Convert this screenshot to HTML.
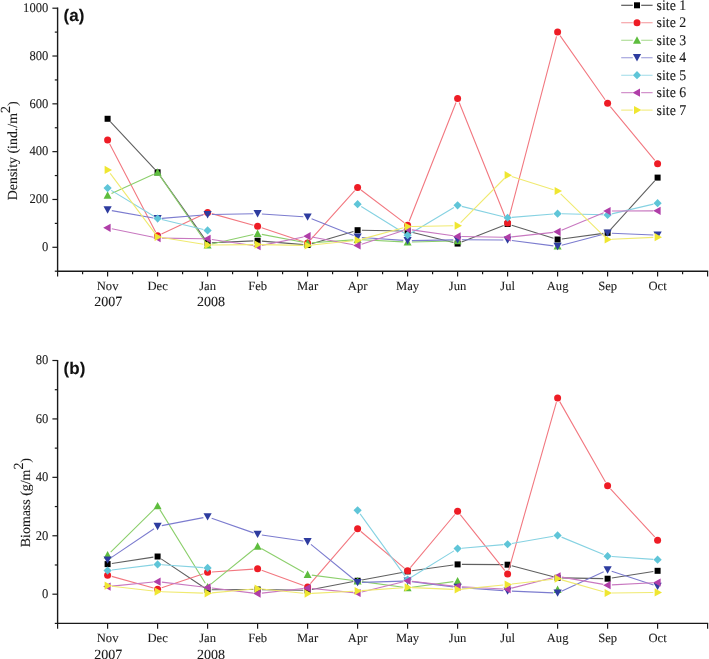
<!DOCTYPE html>
<html><head><meta charset="utf-8"><style>
html,body{margin:0;padding:0;background:#fff;}
body{width:709px;height:659px;overflow:hidden;}
svg{display:block;filter:blur(0.45px);}
.ax{stroke:#1a1a1a;stroke-width:1.4;}
.tk{stroke:#1a1a1a;stroke-width:1.2;}
.ln{stroke-width:1.1;}
.lln{stroke-width:1.1;opacity:0.8;}
text{font-family:"Liberation Serif",serif;fill:#1a1a1a;stroke:#1a1a1a;stroke-width:0.1px;text-rendering:geometricPrecision;}
.tl{font-size:12.6px;}
.lg{font-size:13.9px;}
.yr{font-size:14px;}
.yl{font-size:13.9px;}
.sup{font-size:9.5px;}
.tag{font-family:"Liberation Sans",sans-serif;font-weight:bold;font-size:17px;fill:#111;}
</style></head><body>
<svg width="709" height="659" viewBox="0 0 709 659">
<line x1="57.6" y1="7.6" x2="57.6" y2="271.8" class="ax"/>
<line x1="57" y1="271.2" x2="708.2" y2="271.2" class="ax"/>
<line x1="54.8" y1="271.2" x2="57.6" y2="271.2" class="tk"/>
<line x1="52.4" y1="247.29" x2="57.6" y2="247.29" class="tk"/>
<text transform="translate(48.3,250.99) scale(1,1.06)" class="tl" text-anchor="end">0</text>
<line x1="54.8" y1="223.38" x2="57.6" y2="223.38" class="tk"/>
<line x1="52.4" y1="199.47" x2="57.6" y2="199.47" class="tk"/>
<text transform="translate(48.3,203.17) scale(1,1.06)" class="tl" text-anchor="end">200</text>
<line x1="54.8" y1="175.56" x2="57.6" y2="175.56" class="tk"/>
<line x1="52.4" y1="151.65" x2="57.6" y2="151.65" class="tk"/>
<text transform="translate(48.3,155.35) scale(1,1.06)" class="tl" text-anchor="end">400</text>
<line x1="54.8" y1="127.75" x2="57.6" y2="127.75" class="tk"/>
<line x1="52.4" y1="103.84" x2="57.6" y2="103.84" class="tk"/>
<text transform="translate(48.3,107.54) scale(1,1.06)" class="tl" text-anchor="end">600</text>
<line x1="54.8" y1="79.93" x2="57.6" y2="79.93" class="tk"/>
<line x1="52.4" y1="56.02" x2="57.6" y2="56.02" class="tk"/>
<text transform="translate(48.3,59.72) scale(1,1.06)" class="tl" text-anchor="end">800</text>
<line x1="54.8" y1="32.11" x2="57.6" y2="32.11" class="tk"/>
<line x1="52.4" y1="8.2" x2="57.6" y2="8.2" class="tk"/>
<text transform="translate(48.3,11.9) scale(1,1.06)" class="tl" text-anchor="end">1000</text>
<line x1="57.6" y1="271.2" x2="57.6" y2="276.6" class="tk"/>
<line x1="82.6" y1="271.2" x2="82.6" y2="274.2" class="tk"/>
<line x1="107.6" y1="271.2" x2="107.6" y2="276.6" class="tk"/>
<line x1="132.6" y1="271.2" x2="132.6" y2="274.2" class="tk"/>
<line x1="157.6" y1="271.2" x2="157.6" y2="276.6" class="tk"/>
<line x1="182.6" y1="271.2" x2="182.6" y2="274.2" class="tk"/>
<line x1="207.6" y1="271.2" x2="207.6" y2="276.6" class="tk"/>
<line x1="232.6" y1="271.2" x2="232.6" y2="274.2" class="tk"/>
<line x1="257.6" y1="271.2" x2="257.6" y2="276.6" class="tk"/>
<line x1="282.6" y1="271.2" x2="282.6" y2="274.2" class="tk"/>
<line x1="307.6" y1="271.2" x2="307.6" y2="276.6" class="tk"/>
<line x1="332.6" y1="271.2" x2="332.6" y2="274.2" class="tk"/>
<line x1="357.6" y1="271.2" x2="357.6" y2="276.6" class="tk"/>
<line x1="382.6" y1="271.2" x2="382.6" y2="274.2" class="tk"/>
<line x1="407.6" y1="271.2" x2="407.6" y2="276.6" class="tk"/>
<line x1="432.6" y1="271.2" x2="432.6" y2="274.2" class="tk"/>
<line x1="457.6" y1="271.2" x2="457.6" y2="276.6" class="tk"/>
<line x1="482.6" y1="271.2" x2="482.6" y2="274.2" class="tk"/>
<line x1="507.6" y1="271.2" x2="507.6" y2="276.6" class="tk"/>
<line x1="532.6" y1="271.2" x2="532.6" y2="274.2" class="tk"/>
<line x1="557.6" y1="271.2" x2="557.6" y2="276.6" class="tk"/>
<line x1="582.6" y1="271.2" x2="582.6" y2="274.2" class="tk"/>
<line x1="607.6" y1="271.2" x2="607.6" y2="276.6" class="tk"/>
<line x1="632.6" y1="271.2" x2="632.6" y2="274.2" class="tk"/>
<line x1="657.6" y1="271.2" x2="657.6" y2="276.6" class="tk"/>
<line x1="682.6" y1="271.2" x2="682.6" y2="274.2" class="tk"/>
<line x1="707.6" y1="271.2" x2="707.6" y2="276.6" class="tk"/>
<text transform="translate(107.6,290.2)" class="tl" text-anchor="middle">Nov</text>
<text transform="translate(157.6,290.2)" class="tl" text-anchor="middle">Dec</text>
<text transform="translate(207.6,290.2)" class="tl" text-anchor="middle">Jan</text>
<text transform="translate(257.6,290.2)" class="tl" text-anchor="middle">Feb</text>
<text transform="translate(307.6,290.2)" class="tl" text-anchor="middle">Mar</text>
<text transform="translate(357.6,290.2)" class="tl" text-anchor="middle">Apr</text>
<text transform="translate(407.6,290.2)" class="tl" text-anchor="middle">May</text>
<text transform="translate(457.6,290.2)" class="tl" text-anchor="middle">Jun</text>
<text transform="translate(507.6,290.2)" class="tl" text-anchor="middle">Jul</text>
<text transform="translate(557.6,290.2)" class="tl" text-anchor="middle">Aug</text>
<text transform="translate(607.6,290.2)" class="tl" text-anchor="middle">Sep</text>
<text transform="translate(657.6,290.2)" class="tl" text-anchor="middle">Oct</text>
<text transform="translate(108.3,306.4)" class="yr" text-anchor="middle">2007</text>
<text transform="translate(211,306.4)" class="yr" text-anchor="middle">2008</text>
<path d="M110.53 121.92L154.67 169.19M160.09 175.84L205.11 239.36M211.9 242.68L253.3 240.9M261.88 241.08L303.32 244.65M311.72 243.8L353.48 231.42M361.9 230.28L403.3 231.07M411.77 232.19L453.43 242.55M461.6 242.02L503.6 225.55M511.71 225.26L553.49 238.24M561.86 238.95L603.34 233.4M610.49 229.64L654.71 180.78" fill="none" stroke="#606060" class="ln"/>
<rect x="104.6" y="115.78" width="6" height="6" fill="#000000"/>
<rect x="154.6" y="169.34" width="6" height="6" fill="#000000"/>
<rect x="204.6" y="239.87" width="6" height="6" fill="#000000"/>
<rect x="254.6" y="237.72" width="6" height="6" fill="#000000"/>
<rect x="304.6" y="242.02" width="6" height="6" fill="#000000"/>
<rect x="354.6" y="227.2" width="6" height="6" fill="#000000"/>
<rect x="404.6" y="228.15" width="6" height="6" fill="#000000"/>
<rect x="454.6" y="240.58" width="6" height="6" fill="#000000"/>
<rect x="504.6" y="220.98" width="6" height="6" fill="#000000"/>
<rect x="554.6" y="236.52" width="6" height="6" fill="#000000"/>
<rect x="604.6" y="229.83" width="6" height="6" fill="#000000"/>
<rect x="654.6" y="174.6" width="6" height="6" fill="#000000"/>
<path d="M109.59 143.87L155.61 231.88M161.5 233.89L203.7 214.31M211.74 213.65L253.46 225.22M261.68 227.74L303.52 241.74M310.47 239.91L354.73 190.6M361.03 189.99L404.17 222.58M409.18 221.18L456.02 102.46M459.2 102.45L506 219.03M508.69 218.86L556.51 36.27M560.07 35.63L605.13 99.72M610.34 106.55L654.86 160.41" fill="none" stroke="#f27880" class="ln"/>
<circle cx="107.6" cy="140.06" r="3.5" fill="#ee1c25"/>
<circle cx="157.6" cy="235.69" r="3.5" fill="#ee1c25"/>
<circle cx="207.6" cy="212.5" r="3.5" fill="#ee1c25"/>
<circle cx="257.6" cy="226.37" r="3.5" fill="#ee1c25"/>
<circle cx="307.6" cy="243.11" r="3.5" fill="#ee1c25"/>
<circle cx="357.6" cy="187.4" r="3.5" fill="#ee1c25"/>
<circle cx="407.6" cy="225.17" r="3.5" fill="#ee1c25"/>
<circle cx="457.6" cy="98.46" r="3.5" fill="#ee1c25"/>
<circle cx="507.6" cy="223.02" r="3.5" fill="#ee1c25"/>
<circle cx="557.6" cy="32.11" r="3.5" fill="#ee1c25"/>
<circle cx="607.6" cy="103.24" r="3.5" fill="#ee1c25"/>
<circle cx="657.6" cy="163.73" r="3.5" fill="#ee1c25"/>
<path d="M111.51 193.49L153.69 174.13M160.04 175.88L205.16 241.48M211.79 244.06L253.41 234.51M261.82 234.35L303.38 242.3M311.89 242.8L353.31 239.83M361.89 239.75L403.31 241.92M411.9 242.05L453.3 241.06" fill="none" stroke="#8ccf6c" class="ln"/>
<polygon points="107.6,191.29 111.6,198.69 103.6,198.69" fill="#5ebd3e"/>
<polygon points="157.6,168.34 161.6,175.74 153.6,175.74" fill="#5ebd3e"/>
<polygon points="207.6,241.02 211.6,248.42 203.6,248.42" fill="#5ebd3e"/>
<polygon points="257.6,229.54 261.6,236.94 253.6,236.94" fill="#5ebd3e"/>
<polygon points="307.6,239.11 311.6,246.51 303.6,246.51" fill="#5ebd3e"/>
<polygon points="357.6,235.52 361.6,242.92 353.6,242.92" fill="#5ebd3e"/>
<polygon points="407.6,238.15 411.6,245.55 403.6,245.55" fill="#5ebd3e"/>
<polygon points="457.6,236.95 461.6,244.35 453.6,244.35" fill="#5ebd3e"/>
<polygon points="557.6,241.98 561.6,249.38 553.6,249.38" fill="#5ebd3e"/>
<path d="M111.83 210.62L153.37 217.97M161.89 218.37L203.31 215M211.9 214.57L253.3 213.78M261.89 213.99L303.31 216.76M311.59 218.65L353.61 235.53M361.89 237.44L403.31 240.41M411.9 240.63L453.3 239.84M461.9 239.78L503.3 239.98M511.86 240.55L553.34 245.9M561.75 245.34L603.45 234.18M611.9 233.25L653.3 235.03" fill="none" stroke="#7c7ccf" class="ln"/>
<polygon points="103.5,206.27 111.7,206.27 107.6,213.67" fill="#2e3c9f"/>
<polygon points="153.5,215.12 161.7,215.12 157.6,222.52" fill="#2e3c9f"/>
<polygon points="203.5,211.05 211.7,211.05 207.6,218.45" fill="#2e3c9f"/>
<polygon points="253.5,210.1 261.7,210.1 257.6,217.5" fill="#2e3c9f"/>
<polygon points="303.5,213.45 311.7,213.45 307.6,220.85" fill="#2e3c9f"/>
<polygon points="353.5,233.53 361.7,233.53 357.6,240.93" fill="#2e3c9f"/>
<polygon points="403.5,237.12 411.7,237.12 407.6,244.52" fill="#2e3c9f"/>
<polygon points="453.5,236.16 461.7,236.16 457.6,243.56" fill="#2e3c9f"/>
<polygon points="503.5,236.4 511.7,236.4 507.6,243.8" fill="#2e3c9f"/>
<polygon points="553.5,242.85 561.7,242.85 557.6,250.25" fill="#2e3c9f"/>
<polygon points="603.5,229.47 611.7,229.47 607.6,236.86" fill="#2e3c9f"/>
<polygon points="653.5,231.62 661.7,231.62 657.6,239.02" fill="#2e3c9f"/>
<path d="M111.28 190.35L153.92 216.25M161.78 219.48L203.42 229.44M361.25 206.41L403.95 232.95M411.29 233.01L453.91 207.54M461.77 206.37L503.43 216.73M511.89 217.41L553.31 214.05M561.9 213.8L603.3 214.79M611.79 213.91L653.41 204.16" fill="none" stroke="#86d2e2" class="ln"/>
<polygon points="107.6,184.02 111.7,188.12 107.6,192.22 103.5,188.12" fill="#5fc5d8"/>
<polygon points="157.6,214.38 161.7,218.48 157.6,222.58 153.5,218.48" fill="#5fc5d8"/>
<polygon points="207.6,226.34 211.7,230.44 207.6,234.53 203.5,230.44" fill="#5fc5d8"/>
<polygon points="357.6,200.03 361.7,204.13 357.6,208.23 353.5,204.13" fill="#5fc5d8"/>
<polygon points="407.6,231.12 411.7,235.22 407.6,239.32 403.5,235.22" fill="#5fc5d8"/>
<polygon points="457.6,201.23 461.7,205.33 457.6,209.43 453.5,205.33" fill="#5fc5d8"/>
<polygon points="507.6,213.66 511.7,217.76 507.6,221.86 503.5,217.76" fill="#5fc5d8"/>
<polygon points="557.6,209.6 561.7,213.7 557.6,217.8 553.5,213.7" fill="#5fc5d8"/>
<polygon points="607.6,210.79 611.7,214.89 607.6,218.99 603.5,214.89" fill="#5fc5d8"/>
<polygon points="657.6,199.08 661.7,203.18 657.6,207.28 653.5,203.18" fill="#5fc5d8"/>
<path d="M111.81 228.67L153.39 237.22M161.9 238.15L203.3 238.74M211.85 239.43L253.35 245.58M261.82 245.37L303.38 237.02M311.83 236.96L353.37 244.71M361.69 244.17L403.51 230.57M411.86 229.85L453.34 235.8M461.9 236.49L503.3 237.29M511.87 236.9L553.33 232.34M561.57 230.22L603.63 212.72M611.9 211.05L653.3 210.85" fill="none" stroke="#c878c0" class="ln"/>
<polygon points="103.2,227.8 110.6,223.7 110.6,231.9" fill="#b03ea8"/>
<polygon points="153.2,238.09 160.6,233.99 160.6,242.19" fill="#b03ea8"/>
<polygon points="203.2,238.8 210.6,234.7 210.6,242.9" fill="#b03ea8"/>
<polygon points="253.2,246.21 260.6,242.11 260.6,250.31" fill="#b03ea8"/>
<polygon points="303.2,236.17 310.6,232.07 310.6,240.27" fill="#b03ea8"/>
<polygon points="353.2,245.5 360.6,241.4 360.6,249.6" fill="#b03ea8"/>
<polygon points="403.2,229.24 410.6,225.14 410.6,233.34" fill="#b03ea8"/>
<polygon points="453.2,236.41 460.6,232.31 460.6,240.51" fill="#b03ea8"/>
<polygon points="503.2,237.37 510.6,233.27 510.6,241.47" fill="#b03ea8"/>
<polygon points="553.2,231.87 560.6,227.77 560.6,235.97" fill="#b03ea8"/>
<polygon points="603.2,211.07 610.6,206.97 610.6,215.17" fill="#b03ea8"/>
<polygon points="653.2,210.83 660.6,206.73 660.6,214.93" fill="#b03ea8"/>
<path d="M110.17 173.39L155.03 233.45M161.84 237.58L203.36 244.33M211.9 244.98L253.3 244.58M261.9 244.62L303.3 245.42M311.88 245.05L353.32 240.69M361.75 239.11L403.45 227.74M411.9 226.53L453.3 225.74M460.63 222.6L504.57 178.26M511.7 176.5L553.5 189.69M560.69 193.98L604.51 236.53M611.9 239.32L653.3 237.33" fill="none" stroke="#f0ea70" class="ln"/>
<polygon points="104.6,165.84 112,169.94 104.6,174.04" fill="#efe631"/>
<polygon points="154.6,232.79 162,236.89 154.6,240.99" fill="#efe631"/>
<polygon points="204.6,240.92 212,245.02 204.6,249.12" fill="#efe631"/>
<polygon points="254.6,240.44 262,244.54 254.6,248.64" fill="#efe631"/>
<polygon points="304.6,241.4 312,245.5 304.6,249.6" fill="#efe631"/>
<polygon points="354.6,236.14 362,240.24 354.6,244.34" fill="#efe631"/>
<polygon points="404.6,222.51 412,226.61 404.6,230.71" fill="#efe631"/>
<polygon points="454.6,221.55 462,225.65 454.6,229.75" fill="#efe631"/>
<polygon points="504.6,171.1 512,175.2 504.6,179.3" fill="#efe631"/>
<polygon points="554.6,186.88 562,190.98 554.6,195.08" fill="#efe631"/>
<polygon points="604.6,235.42 612,239.52 604.6,243.62" fill="#efe631"/>
<polygon points="654.6,233.03 662,237.13 654.6,241.23" fill="#efe631"/>
<text transform="translate(63.6,21.2)" class="tag">(a)</text>
<text transform="translate(17.1,150.8) rotate(-90)" class="yl" text-anchor="middle">Density (ind./m<tspan dy="-6.8">2</tspan><tspan dy="6.8">)</tspan></text>
<line x1="57.6" y1="359.9" x2="57.6" y2="624" class="ax"/>
<line x1="57" y1="623.4" x2="708.2" y2="623.4" class="ax"/>
<line x1="54.8" y1="623.4" x2="57.6" y2="623.4" class="tk"/>
<line x1="52.4" y1="594.19" x2="57.6" y2="594.19" class="tk"/>
<text transform="translate(48.3,597.99) scale(1,1.06)" class="tl" text-anchor="end">0</text>
<line x1="54.8" y1="564.98" x2="57.6" y2="564.98" class="tk"/>
<line x1="52.4" y1="535.77" x2="57.6" y2="535.77" class="tk"/>
<text transform="translate(48.3,539.57) scale(1,1.06)" class="tl" text-anchor="end">20</text>
<line x1="54.8" y1="506.56" x2="57.6" y2="506.56" class="tk"/>
<line x1="52.4" y1="477.34" x2="57.6" y2="477.34" class="tk"/>
<text transform="translate(48.3,481.14) scale(1,1.06)" class="tl" text-anchor="end">40</text>
<line x1="54.8" y1="448.13" x2="57.6" y2="448.13" class="tk"/>
<line x1="52.4" y1="418.92" x2="57.6" y2="418.92" class="tk"/>
<text transform="translate(48.3,422.72) scale(1,1.06)" class="tl" text-anchor="end">60</text>
<line x1="54.8" y1="389.71" x2="57.6" y2="389.71" class="tk"/>
<line x1="52.4" y1="360.5" x2="57.6" y2="360.5" class="tk"/>
<text transform="translate(48.3,364.3) scale(1,1.06)" class="tl" text-anchor="end">80</text>
<line x1="57.6" y1="623.4" x2="57.6" y2="628.8" class="tk"/>
<line x1="107.6" y1="623.4" x2="107.6" y2="628.8" class="tk"/>
<line x1="157.6" y1="623.4" x2="157.6" y2="628.8" class="tk"/>
<line x1="207.6" y1="623.4" x2="207.6" y2="628.8" class="tk"/>
<line x1="257.6" y1="623.4" x2="257.6" y2="628.8" class="tk"/>
<line x1="307.6" y1="623.4" x2="307.6" y2="628.8" class="tk"/>
<line x1="357.6" y1="623.4" x2="357.6" y2="628.8" class="tk"/>
<line x1="407.6" y1="623.4" x2="407.6" y2="628.8" class="tk"/>
<line x1="457.6" y1="623.4" x2="457.6" y2="628.8" class="tk"/>
<line x1="507.6" y1="623.4" x2="507.6" y2="628.8" class="tk"/>
<line x1="557.6" y1="623.4" x2="557.6" y2="628.8" class="tk"/>
<line x1="607.6" y1="623.4" x2="607.6" y2="628.8" class="tk"/>
<line x1="657.6" y1="623.4" x2="657.6" y2="628.8" class="tk"/>
<line x1="707.6" y1="623.4" x2="707.6" y2="628.8" class="tk"/>
<text transform="translate(107.6,642.4)" class="tl" text-anchor="middle">Nov</text>
<text transform="translate(157.6,642.4)" class="tl" text-anchor="middle">Dec</text>
<text transform="translate(207.6,642.4)" class="tl" text-anchor="middle">Jan</text>
<text transform="translate(257.6,642.4)" class="tl" text-anchor="middle">Feb</text>
<text transform="translate(307.6,642.4)" class="tl" text-anchor="middle">Mar</text>
<text transform="translate(357.6,642.4)" class="tl" text-anchor="middle">Apr</text>
<text transform="translate(407.6,642.4)" class="tl" text-anchor="middle">May</text>
<text transform="translate(457.6,642.4)" class="tl" text-anchor="middle">Jun</text>
<text transform="translate(507.6,642.4)" class="tl" text-anchor="middle">Jul</text>
<text transform="translate(557.6,642.4)" class="tl" text-anchor="middle">Aug</text>
<text transform="translate(607.6,642.4)" class="tl" text-anchor="middle">Sep</text>
<text transform="translate(657.6,642.4)" class="tl" text-anchor="middle">Oct</text>
<text transform="translate(108.3,658.6)" class="yr" text-anchor="middle">2007</text>
<text transform="translate(211,658.6)" class="yr" text-anchor="middle">2008</text>
<path d="M111.85 563.46L153.35 557.15M161.18 558.89L204.02 587.42M211.9 589.78L253.3 589.54M261.9 589.59L303.3 590.32M311.82 589.58L353.38 581.57M361.83 579.96L403.37 572.19M411.86 570.81L453.34 564.99M461.9 564.42L503.3 564.66M511.76 565.78L553.44 576.74M561.9 577.91L603.3 578.63M611.85 578.04L653.35 571.49" fill="none" stroke="#606060" class="ln"/>
<rect x="104.6" y="561.1" width="6" height="6" fill="#000000"/>
<rect x="154.6" y="553.51" width="6" height="6" fill="#000000"/>
<rect x="204.6" y="586.81" width="6" height="6" fill="#000000"/>
<rect x="254.6" y="586.52" width="6" height="6" fill="#000000"/>
<rect x="304.6" y="587.39" width="6" height="6" fill="#000000"/>
<rect x="354.6" y="577.75" width="6" height="6" fill="#000000"/>
<rect x="404.6" y="568.4" width="6" height="6" fill="#000000"/>
<rect x="454.6" y="561.39" width="6" height="6" fill="#000000"/>
<rect x="504.6" y="561.69" width="6" height="6" fill="#000000"/>
<rect x="554.6" y="574.83" width="6" height="6" fill="#000000"/>
<rect x="604.6" y="575.71" width="6" height="6" fill="#000000"/>
<rect x="654.6" y="567.82" width="6" height="6" fill="#000000"/>
<path d="M111.74 576.36L153.46 588.06M161.67 587.84L203.53 573.66M211.89 571.98L253.31 569.08M261.64 570.24L303.56 585.42M310.4 583.63L354.8 532.02M360.89 531.52L404.31 568.05M410.36 567.53L454.84 514.52M460.28 514.59L504.92 570.67M508.77 569.9L556.43 402.03M559.73 401.63L605.47 482.08M610.51 488.98L654.69 536.98" fill="none" stroke="#f27880" class="ln"/>
<circle cx="107.6" cy="575.2" r="3.5" fill="#ee1c25"/>
<circle cx="157.6" cy="589.22" r="3.5" fill="#ee1c25"/>
<circle cx="207.6" cy="572.28" r="3.5" fill="#ee1c25"/>
<circle cx="257.6" cy="568.78" r="3.5" fill="#ee1c25"/>
<circle cx="307.6" cy="586.89" r="3.5" fill="#ee1c25"/>
<circle cx="357.6" cy="528.76" r="3.5" fill="#ee1c25"/>
<circle cx="407.6" cy="570.82" r="3.5" fill="#ee1c25"/>
<circle cx="457.6" cy="511.23" r="3.5" fill="#ee1c25"/>
<circle cx="507.6" cy="574.03" r="3.5" fill="#ee1c25"/>
<circle cx="557.6" cy="397.89" r="3.5" fill="#ee1c25"/>
<circle cx="607.6" cy="485.82" r="3.5" fill="#ee1c25"/>
<circle cx="657.6" cy="540.15" r="3.5" fill="#ee1c25"/>
<path d="M110.67 552.03L154.53 508.98M159.86 509.63L205.34 583.23M210.94 584.18L254.26 548.99M261.34 548.4L303.86 572.5M311.86 575.17L353.34 580.5M361.86 581.62L403.34 587.19M411.86 587.19L453.34 581.62" fill="none" stroke="#8ccf6c" class="ln"/>
<polygon points="107.6,551.05 111.6,558.45 103.6,558.45" fill="#5ebd3e"/>
<polygon points="157.6,501.97 161.6,509.37 153.6,509.37" fill="#5ebd3e"/>
<polygon points="207.6,582.89 211.6,590.29 203.6,590.29" fill="#5ebd3e"/>
<polygon points="257.6,542.28 261.6,549.68 253.6,549.68" fill="#5ebd3e"/>
<polygon points="307.6,570.62 311.6,578.02 303.6,578.02" fill="#5ebd3e"/>
<polygon points="357.6,577.04 361.6,584.44 353.6,584.44" fill="#5ebd3e"/>
<polygon points="407.6,583.76 411.6,591.16 403.6,591.16" fill="#5ebd3e"/>
<polygon points="457.6,577.04 461.6,584.44 453.6,584.44" fill="#5ebd3e"/>
<polygon points="557.6,585.52 561.6,592.92 553.6,592.92" fill="#5ebd3e"/>
<path d="M111.17 557.61L154.03 528.82M161.82 525.61L203.38 517.59M211.66 518.2L253.54 532.88M261.85 534.93L303.35 540.99M310.93 544.33L354.27 579.78M361.9 582.38L403.3 581.17M411.86 581.59L453.34 586.92M461.89 587.77L503.31 590.67M511.9 591.15L553.3 592.84M561.5 591.22L603.7 571.75M611.69 571.28L653.51 584.96" fill="none" stroke="#7c7ccf" class="ln"/>
<polygon points="103.5,556.41 111.7,556.41 107.6,563.81" fill="#2e3c9f"/>
<polygon points="153.5,522.82 161.7,522.82 157.6,530.22" fill="#2e3c9f"/>
<polygon points="203.5,513.18 211.7,513.18 207.6,520.58" fill="#2e3c9f"/>
<polygon points="253.5,530.71 261.7,530.71 257.6,538.11" fill="#2e3c9f"/>
<polygon points="303.5,538.01 311.7,538.01 307.6,545.41" fill="#2e3c9f"/>
<polygon points="353.5,578.9 361.7,578.9 357.6,586.3" fill="#2e3c9f"/>
<polygon points="403.5,577.44 411.7,577.44 407.6,584.84" fill="#2e3c9f"/>
<polygon points="453.5,583.87 461.7,583.87 457.6,591.27" fill="#2e3c9f"/>
<polygon points="503.5,587.38 511.7,587.38 507.6,594.78" fill="#2e3c9f"/>
<polygon points="553.5,589.42 561.7,589.42 557.6,596.82" fill="#2e3c9f"/>
<polygon points="603.5,566.34 611.7,566.34 607.6,573.74" fill="#2e3c9f"/>
<polygon points="653.5,582.7 661.7,582.7 657.6,590.1" fill="#2e3c9f"/>
<path d="M111.87 570L153.33 564.92M161.89 564.69L203.31 567.6M360.12 513.84L405.08 576.1M411.26 577.32L453.94 550.88M461.88 548.24L503.32 544.61M511.84 543.5L553.36 536.22M561.57 537.12L603.63 554.57M611.89 556.52L653.31 559.42" fill="none" stroke="#86d2e2" class="ln"/>
<polygon points="107.6,566.43 111.7,570.53 107.6,574.63 103.5,570.53" fill="#5fc5d8"/>
<polygon points="157.6,560.29 161.7,564.39 157.6,568.49 153.5,564.39" fill="#5fc5d8"/>
<polygon points="207.6,563.8 211.7,567.9 207.6,572 203.5,567.9" fill="#5fc5d8"/>
<polygon points="357.6,506.25 361.7,510.35 357.6,514.45 353.5,510.35" fill="#5fc5d8"/>
<polygon points="407.6,575.48 411.7,579.58 407.6,583.68 403.5,579.58" fill="#5fc5d8"/>
<polygon points="457.6,544.52 461.7,548.62 457.6,552.72 453.5,548.62" fill="#5fc5d8"/>
<polygon points="507.6,540.14 511.7,544.24 507.6,548.34 503.5,544.24" fill="#5fc5d8"/>
<polygon points="557.6,531.37 561.7,535.47 557.6,539.57 553.5,535.47" fill="#5fc5d8"/>
<polygon points="607.6,552.11 611.7,556.21 607.6,560.31 603.5,556.21" fill="#5fc5d8"/>
<polygon points="657.6,555.62 661.7,559.72 657.6,563.82 653.5,559.72" fill="#5fc5d8"/>
<path d="M111.88 586.17L153.32 582.05M161.87 582.13L203.33 586.97M211.87 587.99L253.33 593.08M261.87 593.13L303.33 588.53M311.88 588.48L353.32 592.6M361.78 592L403.42 581.78M411.87 581.25L453.33 586.09M461.89 586.82L503.31 589M511.76 588.15L553.44 577.44M561.84 577.11L603.36 584.39M611.89 584.91L653.31 582.73" fill="none" stroke="#c878c0" class="ln"/>
<polygon points="103.2,586.59 110.6,582.49 110.6,590.69" fill="#b03ea8"/>
<polygon points="153.2,581.63 160.6,577.53 160.6,585.73" fill="#b03ea8"/>
<polygon points="203.2,587.47 210.6,583.37 210.6,591.57" fill="#b03ea8"/>
<polygon points="253.2,593.6 260.6,589.5 260.6,597.7" fill="#b03ea8"/>
<polygon points="303.2,588.05 310.6,583.95 310.6,592.15" fill="#b03ea8"/>
<polygon points="353.2,593.02 360.6,588.92 360.6,597.12" fill="#b03ea8"/>
<polygon points="403.2,580.75 410.6,576.65 410.6,584.85" fill="#b03ea8"/>
<polygon points="453.2,586.59 460.6,582.49 460.6,590.69" fill="#b03ea8"/>
<polygon points="503.2,589.22 510.6,585.12 510.6,593.32" fill="#b03ea8"/>
<polygon points="553.2,576.37 560.6,572.27 560.6,580.47" fill="#b03ea8"/>
<polygon points="603.2,585.13 610.6,581.03 610.6,589.23" fill="#b03ea8"/>
<polygon points="653.2,582.5 660.6,578.4 660.6,586.6" fill="#b03ea8"/>
<path d="M111.87 586.22L153.33 591.06M161.9 591.71L203.3 593.16M211.88 592.91L253.32 589.04M261.88 589.06L303.32 593.18M311.89 593.38L353.31 591.2M361.89 590.67L403.31 587.77M411.9 587.65L453.3 589.34M461.88 589.09L503.32 584.97M511.87 584.05L553.33 579.21M561.73 579.89L603.47 591.84M611.9 592.97L653.3 592.49" fill="none" stroke="#f0ea70" class="ln"/>
<polygon points="104.6,581.62 112,585.72 104.6,589.82" fill="#efe631"/>
<polygon points="154.6,587.46 162,591.56 154.6,595.66" fill="#efe631"/>
<polygon points="204.6,589.21 212,593.31 204.6,597.41" fill="#efe631"/>
<polygon points="254.6,584.54 262,588.64 254.6,592.74" fill="#efe631"/>
<polygon points="304.6,589.5 312,593.6 304.6,597.7" fill="#efe631"/>
<polygon points="354.6,586.88 362,590.98 354.6,595.08" fill="#efe631"/>
<polygon points="404.6,583.37 412,587.47 404.6,591.57" fill="#efe631"/>
<polygon points="454.6,585.42 462,589.52 454.6,593.62" fill="#efe631"/>
<polygon points="504.6,580.45 512,584.55 504.6,588.65" fill="#efe631"/>
<polygon points="554.6,574.61 562,578.71 554.6,582.81" fill="#efe631"/>
<polygon points="604.6,588.92 612,593.02 604.6,597.12" fill="#efe631"/>
<polygon points="654.6,588.34 662,592.44 654.6,596.54" fill="#efe631"/>
<text transform="translate(63.6,373.5)" class="tag">(b)</text>
<text transform="translate(30,502.6) rotate(-90)" class="yl" text-anchor="middle">Biomass (g/m<tspan dy="-6.8">2</tspan><tspan dy="6.8">)</tspan></text>
<path d="M621.2 5.3H632.8M641.2 5.3H652.6" stroke="#3a3a3a" class="lln" style="opacity:1"/>
<rect x="634" y="2.3" width="6" height="6" fill="#000000"/>
<text transform="translate(656.6,10) scale(1,1.06)" class="lg">site 1</text>
<path d="M621.2 22.77H632.8M641.2 22.77H652.6" stroke="#f27880" class="lln"/>
<circle cx="637" cy="22.77" r="3.5" fill="#ee1c25"/>
<text transform="translate(656.6,27.47) scale(1,1.06)" class="lg">site 2</text>
<path d="M621.2 40.24H632.8M641.2 40.24H652.6" stroke="#8ccf6c" class="lln"/>
<polygon points="637,36.24 641,43.64 633,43.64" fill="#5ebd3e"/>
<text transform="translate(656.6,44.94) scale(1,1.06)" class="lg">site 3</text>
<path d="M621.2 57.71H632.8M641.2 57.71H652.6" stroke="#7c7ccf" class="lln"/>
<polygon points="632.9,54.11 641.1,54.11 637,61.51" fill="#2e3c9f"/>
<text transform="translate(656.6,62.41) scale(1,1.06)" class="lg">site 4</text>
<path d="M621.2 75.18H632.8M641.2 75.18H652.6" stroke="#86d2e2" class="lln"/>
<polygon points="637,71.08 641.1,75.18 637,79.28 632.9,75.18" fill="#5fc5d8"/>
<text transform="translate(656.6,79.88) scale(1,1.06)" class="lg">site 5</text>
<path d="M621.2 92.65H632.8M641.2 92.65H652.6" stroke="#c878c0" class="lln"/>
<polygon points="632.6,92.65 640,88.55 640,96.75" fill="#b03ea8"/>
<text transform="translate(656.6,97.35) scale(1,1.06)" class="lg">site 6</text>
<path d="M621.2 110.12H632.8M641.2 110.12H652.6" stroke="#f0ea70" class="lln"/>
<polygon points="634,106.02 641.4,110.12 634,114.22" fill="#efe631"/>
<text transform="translate(656.6,114.82) scale(1,1.06)" class="lg">site 7</text>
</svg>
</body></html>
